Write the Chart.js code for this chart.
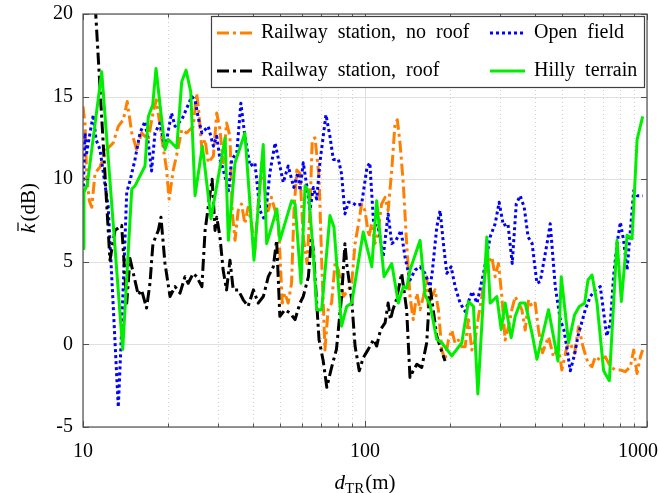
<!DOCTYPE html>
<html>
<head>
<meta charset="utf-8">
<title>Rician K-factor vs distance</title>
<script src="https://cdn.jsdelivr.net/npm/chart.js@4.4.0/dist/chart.umd.min.js"></script>
<style>
  html, body { margin: 0; padding: 0; background: #fff; }
</style>
</head>
<body>
<canvas id="kChart" width="659" height="493"></canvas>
<script>
// K-factor (dB) against T-R distance (m), one pair of arrays per scenario
const noRoofDist = [10.0, 10.16, 10.31, 10.53, 10.74, 11.03, 11.49, 12.13, 12.8, 13.34,
  13.9, 14.35, 14.89, 15.5, 16.13, 17.04, 17.7, 18.2, 18.98, 19.76,
  20.2, 20.9, 21.7, 22.4, 23.3, 24.6, 25.3, 25.7, 26.4, 27.1,
  27.8, 29.0, 29.8, 30.6, 31.4, 32.3, 33.2, 33.8, 34.6, 35.5,
  36.5, 37.5, 38.5, 39.6, 40.7, 41.8, 43.0, 44.2, 45.4, 46.6,
  48.0, 49.3, 50.9, 52.0, 53.4, 54.9, 56.0, 57.3, 58.8, 60.4,
  62.3, 63.8, 65.0, 66.5, 68.7, 70.2, 72.1, 74.0, 76.1, 78.3,
  80.5, 83.8, 87.3, 89.7, 92.2, 94.8, 97.3, 100, 103.2, 105.7,
  108.5, 111.5, 114.5, 117.8, 120.8, 124.4, 127.8, 130.2, 133.1, 136.7,
  140.5, 144.4, 148.3, 152.7, 156.8, 161.1, 165.5, 167.8, 172.4, 177.2,
  182.1, 187.2, 192.3, 197.6, 203.1, 208.7, 214.4, 220.4, 226.5, 232.7,
  239.2, 245.8, 252.6, 259.6, 266.7, 274.1, 281.7, 289.4, 297.4, 305.7,
  314.1, 322.8, 331.8, 340.9, 350.3, 360.0, 369.9, 380.1, 390.7, 401.4,
  412.5, 426, 447.5, 466, 485, 499, 520, 534.5, 553.7, 572,
  593, 618, 638, 655.7, 683.1, 711.6, 741.3, 772.3, 804.5, 838.1,
  873.1, 897, 922, 947.5, 965];
const noRoofK = [14.4, 13.4, 10.15, 8.7, 8.3, 10.35, 10.75, 11.8, 12.2, 13.2,
  13.6, 14.7, 12.8, 11.8, 12.8, 12.4, 14.0, 14.8, 12.6, 10.65,
  8.8, 10.55, 11.8, 13.0, 12.8, 13.2, 15.2, 14.2, 11.8, 12.4,
  11.0, 11.4, 14.0, 13.0, 11.0, 13.4, 12.6, 8.1, 6.3, 8.1,
  8.5, 7.3, 8.3, 7.3, 5.7, 8.5, 11.0, 9.3, 8.1, 8.9,
  8.1, 7.3, 2.5, 3.1, 2.5, 3.7, 8.1, 10.55, 10.35, 6.5,
  4.9, 8.1, 12.4, 12.5, 10.15, 5.1, -0.34, 2.1, 2.5, 4.9,
  4.5, 2.9, 3.3, 3.7, 6.1, 7.3, 8.5, 8.1, 6.5, 7.3,
  6.1, 6.9, 8.5, 8.9, 8.1, 10.55, 13.4, 13.6, 12.2, 9.75,
  6.1, 2.9, 1.5, 3.1, 2.1, 2.9, 4.1, 2.1, 2.9, 3.3,
  2.1, -0.34, -0.95, 0.26, 0.87, 0.06, 0.26, -0.14, -0.14, 1.5,
  -0.34, 0.26, 1.7, 2.9, 4.3, 4.9, 5.3, 4.1, 4.9, 2.9,
  0.26, 1.07, 2.1, 2.9, 2.5, 2.1, 0.87, 2.7, 2.3, 2.5,
  0.87, -0.5, 0.46, -0.75, -0.14, -1.55, -0.14, 0.06, -0.55, 1.07,
  -0.14, -1.15, -1.35, -0.75, -0.95, -0.75, -1.35, -1.55, -1.55, -1.65,
  -1.35, -0.34, -1.76, -0.75, -0.34];

const openDist = [10.02, 10.16, 10.31, 10.59, 10.88, 11.12, 11.49, 11.8, 12.29, 13.34,
  13.71, 14.29, 14.68, 15.29, 15.93, 16.59, 17.04, 17.5, 18.0, 18.75,
  19.53, 20.6, 21.2, 22.4, 23.2, 24.3, 24.96, 25.7, 26.4, 27.8,
  29.0, 29.8, 30.6, 31.4, 32.8, 33.7, 35.1, 36.3, 37.5, 39.1,
  40.7, 42.4, 44.2, 46.0, 48.0, 49.9, 51.3, 53.4, 55.9, 57.8,
  58.8, 60.4, 62.3, 63.8, 65.6, 67.4, 69.2, 71.1, 72.7, 75.1,
  77.2, 80.5, 82.6, 84.9, 87.3, 89.7, 93.4, 97.3, 101.6, 104.0,
  107.3, 111.5, 116.0, 120.8, 124.4, 128.8, 134.2, 138.6, 144.4, 150.5,
  156.8, 163.3, 170.1, 173.0, 179.7, 184.6, 189.7, 195.0, 202.0, 208.7,
  217.4, 226.5, 239.7, 249.6, 263.2, 277.8, 289.4, 299.0, 309.5, 321.3,
  332.7, 343.8, 355.1, 367.0, 378.7, 391.4, 407.0, 418.2, 442.0, 453.8,
  472.8, 492.5, 507.0, 520.0, 534.5, 553.7, 569.0, 604.2, 629.5, 655.7,
  683.1, 700.0, 720.0, 741.3, 760.9, 783.0, 804.5, 826.0, 849.8, 873.1,
  896.8, 922.0, 965.0];
const openK = [9.2, 12.8, 11.6, 12.8, 13.9, 12.4, 11.8, 10.4, 8.3, -3.8,
  0.9, 9.2, 9.9, 11.2, 12.8, 13.5, 12.2, 10.5, 12.8, 13.4,
  11.8, 14.0, 13.2, 13.6, 14.2, 15.0, 14.8, 13.6, 12.8, 13.2,
  12.0, 12.6, 11.2, 10.6, 9.3, 11.2, 11.6, 14.6, 12.6, 10.8,
  11.0, 8.1, 7.5, 10.4, 12.2, 10.8, 9.8, 10.8, 9.5, 10.4,
  9.3, 11.0, 9.5, 8.1, 9.5, 8.8, 11.0, 12.6, 13.9, 12.6,
  11.2, 11.2, 10.3, 7.9, 8.6, 8.6, 8.4, 8.5, 10.7, 11.0,
  7.3, 7.1, 5.3, 7.9, 6.1, 6.3, 6.9, 5.3, 3.9, 4.5,
  4.7, 4.3, 3.5, 4.3, 7.1, 8.1, 6.1, 4.3, 4.7, 3.5,
  2.5, 2.0, 3.2, 2.5, 4.3, 6.5, 7.3, 8.6, 7.2, 7.3,
  4.9, 8.5, 9.0, 8.3, 6.5, 6.1, 3.7, 3.8, 6.1, 7.3,
  3.5, 1.5, 0.9, -0.2, -1.6, -0.6, 0.5, 2.1, 2.9, 3.3,
  3.5, 2.1, 0.5, 1.3, 4.1, 6.1, 7.4, 6.3, 4.5, 6.9,
  9.3, 9.0, 9.0];

const roofDist = [10.59, 12.46, 12.99, 13.71, 14.29, 14.68, 15.08, 15.7, 16.13, 16.8,
  17.28, 17.7, 18.5, 18.9, 19.53, 20.35, 21.2, 22.08, 23.0, 23.6,
  24.6, 25.3, 26.4, 27.1, 28.2, 28.7, 29.4, 29.8, 30.6, 31.4,
  32.3, 33.2, 34.1, 35.5, 37.0, 38.5, 40.2, 41.8, 43.6, 45.4,
  47.3, 48.6, 49.9, 52.0, 54.2, 56.5, 58.8, 60.4, 63.0, 64.6,
  65.6, 68.7, 71.1, 73.2, 76.1, 79.2, 82.6, 84.9, 86.1, 89.7,
  92.2, 95.4, 98.6, 102.7, 107.3, 110.0, 113.6, 117.8, 120.8, 123.1,
  125.6, 129.2, 134.9, 140.5, 144.4, 148.2, 152.7, 158.9, 165.5, 170.1,
  179.7, 186.0, 192.3];
const roofK = [26, 5.1, 6.9, 7.2, 2.5, 5.2, 4.3, 3.0, 3.3, 2.2,
  3.7, 6.1, 6.9, 7.7, 4.9, 2.9, 3.5, 3.1, 4.1, 3.7,
  4.3, 4.1, 3.5, 6.9, 9.1, 10.0, 6.9, 7.7, 6.5, 4.5,
  3.3, 5.1, 3.3, 3.3, 2.7, 2.3, 3.3, 2.5, 2.9, 4.1,
  4.7, 6.3, 1.7, 2.1, 1.9, 1.5, 2.5, 2.9, 4.1, 6.5,
  5.7, 0.3, -1.0, -2.6, -1.4, -0.3, 2.9, 6.1, 4.9, 2.7,
  -0.1, -1.6, -0.8, -0.3, 0.3, -0.1, 0.9, 1.3, 2.5, 1.5,
  2.1, 2.7, 4.3, 2.1, -2.0, -1.6, -1.2, -1.4, 0.1, 3.5,
  0.5, -0.3, -1.0];

const hillyDist = [10.0, 10.08, 10.36, 11.65, 13.83, 14.89, 15.29, 16.59, 17.05, 17.67,
  18.15, 19.53, 20.07, 21.5, 22.39, 23.19, 24.1, 24.96, 26.5, 28.44,
  31.9, 32.77, 34.6, 37.5, 40.4, 43.56, 44.8, 48.7, 49.9, 54.96,
  56.5, 59.3, 61.3, 63.0, 65.55, 67.4, 70.2, 75.1, 77.6, 82.6,
  86.1, 89.7, 98.6, 105.7, 110.0, 116.8, 124.4, 131.3, 136.7, 140.5,
  144.4, 156.8, 163.3, 170.1, 179.7, 187.2, 203.1, 220.4, 232.7, 242.4,
  251.3, 270.4, 277.8, 293.5, 304.0, 314.1, 329.9, 340.9, 355.1, 369.9,
  390.7, 407.0, 447.5, 483.4, 496.5, 527.2, 553.7, 575.3, 600.9, 617.7,
  638.3, 664.9, 701.8, 735.2, 783.1, 811.1, 849.8, 885.3, 922.2, 965.5];
const hillyK = [5.8, 9.2, 9.7, 16.5, -0.3, 9.4, 9.6, 10.8, 13.8, 14.5,
  16.7, 11.8, 12.4, 11.9, 15.9, 16.6, 15.3, 9.0, 12.0, 7.6,
  12.5, 6.3, 11.0, 12.8, 5.1, 12.1, 6.1, 8.2, 6.3, 8.7,
  8.5, 3.7, 9.6, 9.3, 5.5, 2.1, 2.1, 7.8, 7.1, 1.1,
  2.3, 2.5, 6.8, 4.7, 8.7, 4.1, 4.9, 2.5, 3.5, 3.4,
  4.5, 6.3, 3.0, 2.4, 0.3, 0.1, -0.7, 0.1, 2.6, 2.3,
  -3.0, 6.5, 2.5, 2.9, 0.9, 2.5, 0.4, 1.7, 2.5, 2.5,
  0.7, -0.9, 2.1, -1.0, 4.1, 0.1, 1.8, 2.3, 2.5, 3.9,
  4.2, 2.5, -1.6, -2.2, 6.3, 2.6, 6.6, 6.4, 12.4, 13.8];

// axis ticks
const xMajorTicks = [10, 100, 1000];
const xMinorTicks = [20, 30, 40, 50, 60, 70, 80, 90, 200, 300, 400, 500, 600, 700, 800, 900];
const yTicks = [-5, 0, 5, 10, 15, 20];

const toPoints = (xs, ys) => xs.map((d, i) => ({ x: d, y: ys[i] }));

const SERIF = '"Liberation Serif", "DejaVu Serif", serif';

const drawLine = (ctx, x1, y1, x2, y2) => {
  ctx.beginPath();
  ctx.moveTo(x1, y1);
  ctx.lineTo(x2, y2);
  ctx.stroke();
};

const frame = {
  id: 'frame',
  beforeDatasetsDraw(chart) {
    const { ctx, chartArea: a, scales: { x, y } } = chart;
    ctx.save();
    ctx.lineWidth = 1;
    ctx.strokeStyle = '#e0e0e0';
    yTicks.forEach((v) => {
      const py = Math.round(y.getPixelForValue(v)) + 0.5;
      drawLine(ctx, a.left, py, a.right, py);
    });
    xMajorTicks.forEach((v) => {
      const px = Math.round(x.getPixelForValue(v)) + 0.5;
      drawLine(ctx, px, a.top, px, a.bottom);
    });
    ctx.strokeStyle = '#cfcfcf';
    ctx.setLineDash([1, 3]);
    xMinorTicks.forEach((v) => {
      const px = Math.round(x.getPixelForValue(v)) + 0.5;
      drawLine(ctx, px, a.top, px, a.bottom);
    });
    ctx.restore();
  },
  afterDatasetsDraw(chart) {
    const { ctx, chartArea: a, scales: { x, y } } = chart;
    const W = chart.width;
    ctx.save();

    // box and inward ticks
    ctx.strokeStyle = '#505050';
    ctx.lineWidth = 1.2;
    ctx.strokeRect(a.left, a.top, a.right - a.left, a.bottom - a.top);
    ctx.lineWidth = 1;
    xMajorTicks.forEach((v) => {
      const px = Math.round(x.getPixelForValue(v)) + 0.5;
      drawLine(ctx, px, a.bottom, px, a.bottom - 6);
      drawLine(ctx, px, a.top, px, a.top + 6);
    });
    xMinorTicks.forEach((v) => {
      const px = Math.round(x.getPixelForValue(v)) + 0.5;
      drawLine(ctx, px, a.bottom, px, a.bottom - 3.5);
      drawLine(ctx, px, a.top, px, a.top + 3.5);
    });
    yTicks.forEach((v) => {
      const py = Math.round(y.getPixelForValue(v)) + 0.5;
      drawLine(ctx, a.left, py, a.left + 6, py);
      drawLine(ctx, a.right, py, a.right - 6, py);
    });

    // tick labels
    ctx.fillStyle = '#000';
    ctx.font = '20px ' + SERIF;
    ctx.textBaseline = 'middle';
    ctx.textAlign = 'right';
    yTicks.forEach((v) => {
      ctx.fillText(String(v), a.left - 10, y.getPixelForValue(v));
    });
    ctx.textAlign = 'center';
    xMajorTicks.forEach((v) => {
      const label = String(v);
      const half = ctx.measureText(label).width / 2;
      const px = Math.min(x.getPixelForValue(v), W - 1 - half);
      ctx.fillText(label, px, a.bottom + 25);
    });

    // x title: d_TR(m)
    ctx.textAlign = 'left';
    ctx.textBaseline = 'alphabetic';
    const italic = 'italic 21px ' + SERIF;
    const upright = '21px ' + SERIF;
    const sub = '15px ' + SERIF;
    ctx.font = italic;
    const wD = ctx.measureText('d').width;
    ctx.font = sub;
    const wTR = ctx.measureText('TR').width;
    ctx.font = upright;
    const wM = ctx.measureText('(m)').width;
    let tx = (a.left + a.right) / 2 - (wD + wTR + 1 + wM) / 2;
    const ty = 489;
    ctx.font = italic;
    ctx.fillText('d', tx, ty);
    tx += wD;
    ctx.font = sub;
    ctx.fillText('TR', tx, ty + 4);
    tx += wTR + 1;
    ctx.font = upright;
    ctx.fillText('(m)', tx, ty);

    // y title: k-bar(dB), rotated
    ctx.save();
    ctx.translate(35, 208);
    ctx.rotate(-Math.PI / 2);
    ctx.font = italic;
    const wK = ctx.measureText('k').width;
    ctx.font = upright;
    const wDB = ctx.measureText('(dB)').width;
    let ry = -(wK + 2 + wDB) / 2;
    ctx.font = italic;
    ctx.fillText('k', ry, 0);
    ctx.lineWidth = 1.2;
    ctx.strokeStyle = '#000';
    drawLine(ctx, ry + 2, -17, ry + wK + 1, -17);
    ry += wK + 2;
    ctx.font = upright;
    ctx.fillText('(dB)', ry, 0);
    ctx.restore();

    // legend, two columns
    const box = { left: 211, top: 16, right: 644, bottom: 87 };
    ctx.fillStyle = '#fff';
    ctx.fillRect(box.left, box.top, box.right - box.left, box.bottom - box.top);
    ctx.strokeStyle = '#404040';
    ctx.lineWidth = 1.2;
    ctx.strokeRect(box.left + 0.5, box.top + 0.5, box.right - box.left, box.bottom - box.top);
    const slots = [
      { sx: 217, tx: 261, ty: 33 },
      { sx: 490, tx: 534, ty: 33 },
      { sx: 217, tx: 261, ty: 71 },
      { sx: 490, tx: 534, ty: 71 }
    ];
    ctx.font = '20px ' + SERIF;
    ctx.textBaseline = 'middle';
    ctx.textAlign = 'left';
    ctx.wordSpacing = '5px';
    chart.data.datasets.forEach((ds, i) => {
      const s = slots[i];
      ctx.strokeStyle = ds.borderColor;
      ctx.lineWidth = ds.borderWidth || 3;
      ctx.setLineDash(ds.borderDash || []);
      drawLine(ctx, s.sx, s.ty, s.sx + 35, s.ty);
      ctx.setLineDash([]);
      ctx.fillStyle = '#000';
      ctx.fillText(ds.label, s.tx, s.ty);
    });

    ctx.restore();
  }
};

new Chart(document.getElementById('kChart'), {
  type: 'line',
  data: {
    datasets: [
      {
        label: 'Railway station, no roof',
        data: toPoints(noRoofDist, noRoofK),
        borderColor: '#ff8000',
        borderWidth: 3,
        borderDash: [12, 4, 3, 4],
        order: 3
      },
      {
        label: 'Open field',
        data: toPoints(openDist, openK),
        borderColor: '#0000ff',
        borderWidth: 3,
        borderDash: [3, 3],
        order: 2
      },
      {
        label: 'Railway station, roof',
        data: toPoints(roofDist, roofK),
        borderColor: '#000000',
        borderWidth: 3,
        borderDash: [12, 4, 3, 4],
        order: 1
      },
      {
        label: 'Hilly terrain',
        data: toPoints(hillyDist, hillyK),
        borderColor: '#00ee00',
        borderWidth: 3,
        order: 0
      }
    ]
  },
  options: {
    responsive: false,
    animation: false,
    devicePixelRatio: 1,
    layout: { padding: { left: 83, right: 12, top: 14, bottom: 66 } },
    datasets: {
      line: { pointRadius: 0, tension: 0, fill: false, clip: 0, borderJoinStyle: 'round' }
    },
    scales: {
      x: { type: 'logarithmic', min: 10, max: 1000, display: false },
      y: { type: 'linear', min: -5, max: 20, display: false }
    },
    plugins: { legend: { display: false }, tooltip: { enabled: false } }
  },
  plugins: [frame]
});
</script>
</body>
</html>
